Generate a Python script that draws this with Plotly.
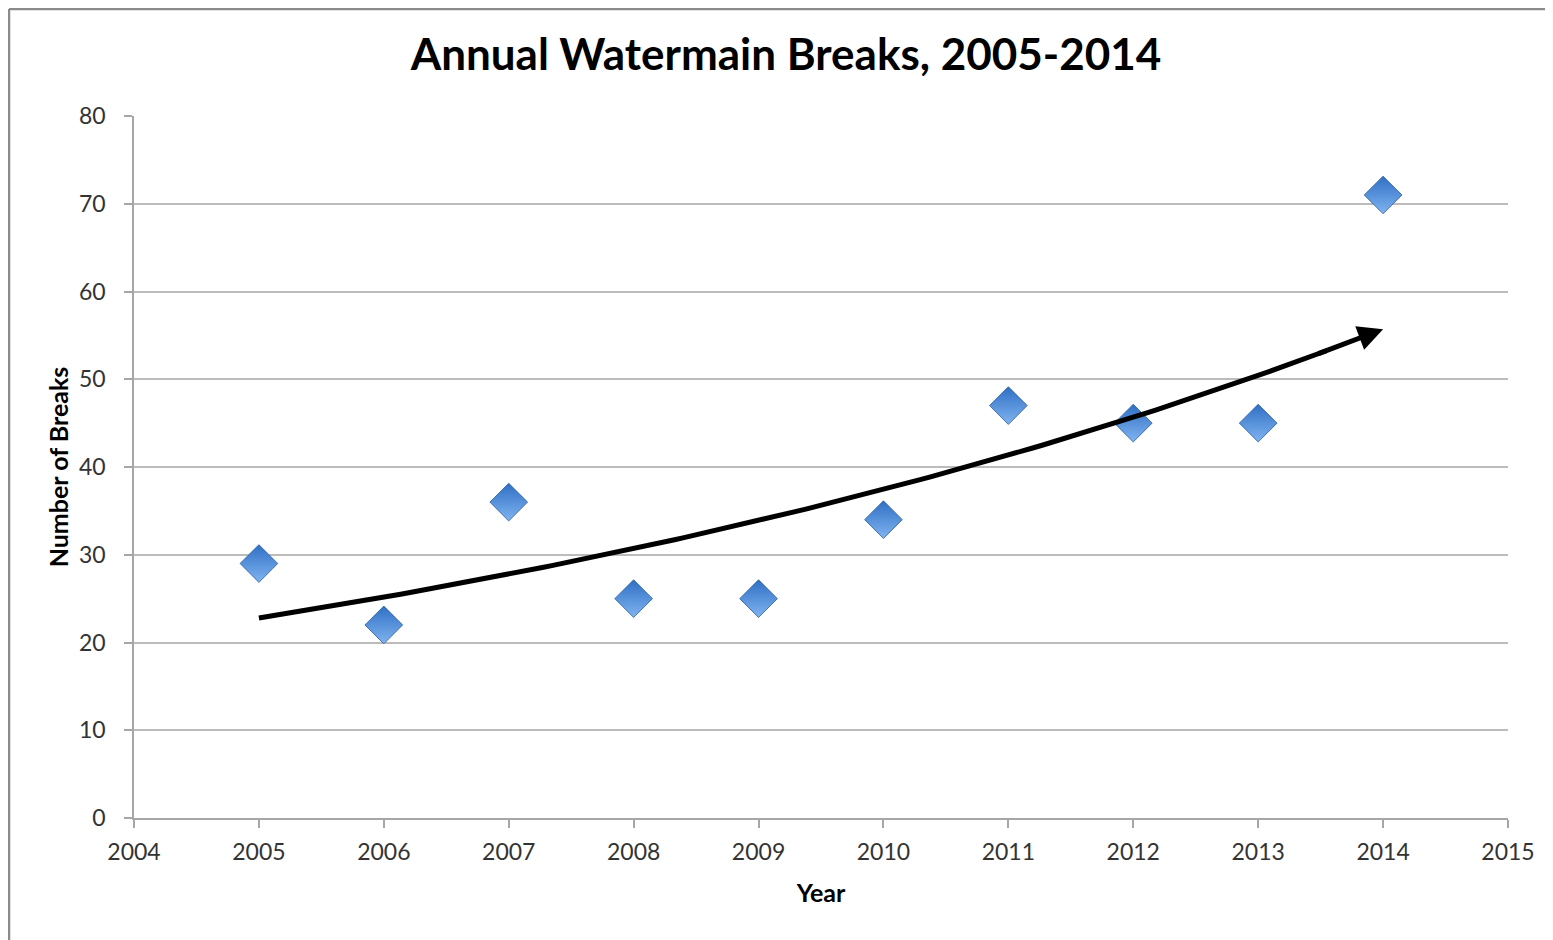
import numpy as np
import plotly.graph_objects as go

years = [2005, 2006, 2007, 2008, 2009, 2010, 2011, 2012, 2013, 2014]
breaks = [29, 22, 36, 25, 25, 34, 47, 45, 45, 71]
x_ticks = list(range(2004, 2016))
y_ticks = list(range(0, 90, 10))

# Exponential trendline (least squares on log values), as in the spreadsheet
b, a = np.polyfit(np.array(years) - years[0], np.log(breaks), 1)
tx = np.linspace(years[0], years[-1], 120)
ty = np.exp(a + b * (tx - years[0]))

OFF = 8  # page body offset
W, H = 1553 - OFF, 940 - OFF
L, R, T, B = 134 - OFF, 1508 - OFF, 116 - OFF, 818 - OFF

fig = go.Figure()
fig.add_trace(go.Scatter(
    x=years, y=breaks, mode="markers",
    marker=dict(symbol="diamond", size=29, color="#2f6fc4",
                gradient=dict(type="vertical", color="#80b4f0"),
                line=dict(width=0.8, color="#2a5d9f")),
    showlegend=False, hoverinfo="x+y"))
fig.add_trace(go.Scatter(
    x=tx[:-6], y=ty[:-6], mode="lines",
    line=dict(color="black", width=5), showlegend=False, hoverinfo="skip"))
fig.add_annotation(
    x=tx[-1], y=ty[-1], ax=tx[-8], ay=ty[-8],
    xref="x", yref="y", axref="x", ayref="y",
    text="", showarrow=True, arrowhead=2, arrowsize=1.0, arrowwidth=5,
    arrowcolor="black", standoff=0, startstandoff=0)

pw = R - L
ph = B - T
# frame: top and left edges only
fig.add_shape(type="line", xref="paper", yref="paper",
              x0=(1 - L) / pw, x1=(W - L) / pw,
              y0=(B - 1) / ph, y1=(B - 1) / ph,
              line=dict(color="#8a8a8a", width=2.5), layer="below")
fig.add_shape(type="line", xref="paper", yref="paper",
              x0=(1 - L) / pw, x1=(1 - L) / pw,
              y0=(B - H) / ph, y1=(B - 1) / ph,
              line=dict(color="#8a8a8a", width=2.5), layer="below")

font = "Lato, 'Open Sans', sans-serif"
fig.update_layout(
    width=W, height=H,
    margin=dict(l=L, r=W - R, t=T, b=H - B, autoexpand=False),
    paper_bgcolor="white", plot_bgcolor="white",
    font=dict(family=font, color="#333333"),
    title=dict(text="<b>Annual Watermain Breaks, 2005-2014</b>",
               x=(786 - OFF) / W, xanchor="center", xref="container",
               y=1 - (55 - OFF) / H, yanchor="middle", yref="container",
               font=dict(size=44, color="black", family=font)),
    xaxis=dict(range=[2004, 2015], tickvals=x_ticks, ticktext=[str(v) for v in x_ticks],
               showgrid=False, zeroline=False, showline=True, linecolor="#a6a6a6", linewidth=1.5,
               ticks="outside", ticklen=8, tickcolor="#a6a6a6", tickwidth=1.5,
               ticklabelstandoff=5,
               tickfont=dict(size=23, color="#333333"),
               title=dict(text="<b>Year</b>", font=dict(size=25, color="black"), standoff=20)),
    yaxis=dict(range=[0, 80], tickvals=y_ticks,
               showgrid=True, gridcolor="#bcbcbc", gridwidth=1.5, zeroline=False,
               showline=True, linecolor="#a6a6a6", linewidth=1.5,
               ticks="outside", ticklen=8, tickcolor="#a6a6a6", tickwidth=1.5,
               ticklabelstandoff=14,
               tickfont=dict(size=23, color="#333333"),
               title=dict(text="<b>Number of Breaks</b>", font=dict(size=25, color="black"), standoff=3)),
)

fig.write_html("out.html")
